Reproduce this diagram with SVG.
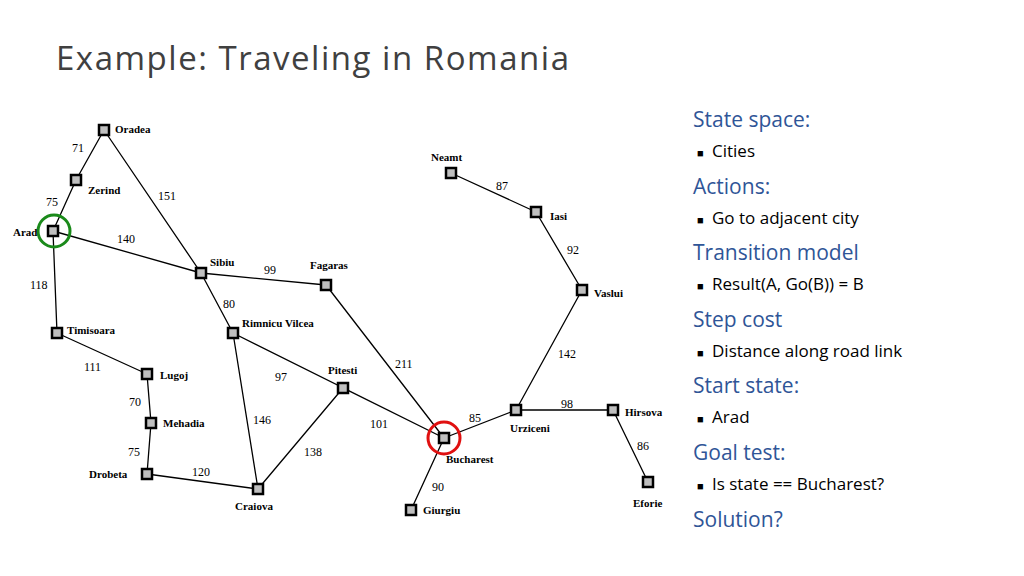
<svg xmlns="http://www.w3.org/2000/svg" width="1024" height="576" viewBox="0 0 1024 576">
<style>
.e{stroke:#000;stroke-width:1.3;fill:none}
.n rect{fill:#bfbfbf;stroke:#000;stroke-width:2.5}
.c{font-family:"Liberation Serif",serif;font-weight:bold;font-size:11px}
.d{font-family:"Liberation Serif",serif;font-size:12px}
.h{font-family:"Open Sans",sans-serif;font-size:21px;fill:#2F5597}
.b{font-family:"Open Sans",sans-serif;font-size:17px;fill:#000}
</style>
<rect width="1024" height="576" fill="#fff"/>
<text x="56" y="70" font-family="Open Sans, sans-serif" font-size="33" fill="#404040" textLength="513">Example: Traveling in Romania</text>
<g id="connectors">
<path class="e" d="M104,130L76,180M76,180L53,231M104,130L201,273M53,231L201,273M53,231L57,333M201,273L326,285M201,273L233,333M326,285L444,438M57,333L147,374M147,374L151,423M151,423L147,474M147,474L258,489M233,333L258,489M233,333L444,438M258,489L343,388M343,388L444,438M444,438L411,510M444,438L516,410M516,410L613,410M613,410L648,482M516,410L582,290M582,290L536,212M536,212L451,173"/>
<circle cx="54" cy="231" r="16" fill="none" stroke="#1a8a1a" stroke-width="3"/>
<circle cx="444" cy="438" r="16" fill="none" stroke="#e01010" stroke-width="3"/>
</g>
<g class="d">
<text x="72" y="152">71</text><text x="46" y="206">75</text><text x="158" y="200">151</text><text x="117" y="243">140</text>
<text x="30" y="289">118</text><text x="264" y="274">99</text><text x="223" y="308">80</text><text x="395" y="368">211</text>
<text x="84" y="371">111</text><text x="275" y="381">97</text><text x="129" y="406">70</text><text x="253" y="424">146</text>
<text x="370" y="428">101</text><text x="128" y="456">75</text><text x="304" y="456">138</text><text x="192" y="476">120</text>
<text x="432" y="491">90</text><text x="469" y="422">85</text><text x="561" y="408">98</text><text x="637" y="450">86</text>
<text x="567" y="254">92</text><text x="496" y="190">87</text><text x="558" y="358">142</text>
</g>
<g class="c">
<g id="Oradea" class="n"><rect x="99" y="125" width="10" height="10"/><text x="115" y="133">Oradea</text></g>
<g id="Zerind" class="n"><rect x="71" y="175" width="10" height="10"/><text x="88" y="194">Zerind</text></g>
<g id="Arad" class="n"><rect x="48" y="226" width="10" height="10"/><text x="13" y="236">Arad</text></g>
<g id="Sibiu" class="n"><rect x="196" y="268" width="10" height="10"/><text x="210" y="266">Sibiu</text></g>
<g id="Fagaras" class="n"><rect x="321" y="280" width="10" height="10"/><text x="310" y="269">Fagaras</text></g>
<g id="Timisoara" class="n"><rect x="52" y="328" width="10" height="10"/><text x="67" y="334">Timisoara</text></g>
<g id="RimnicuVilcea" class="n"><rect x="228" y="328" width="10" height="10"/><text x="242" y="327">Rimnicu Vilcea</text></g>
<g id="Lugoj" class="n"><rect x="142" y="369" width="10" height="10"/><text x="160" y="379">Lugoj</text></g>
<g id="Pitesti" class="n"><rect x="338" y="383" width="10" height="10"/><text x="328" y="374">Pitesti</text></g>
<g id="Mehadia" class="n"><rect x="146" y="418" width="10" height="10"/><text x="163" y="427">Mehadia</text></g>
<g id="Drobeta" class="n"><rect x="142" y="469" width="10" height="10"/><text x="89" y="478">Drobeta</text></g>
<g id="Craiova" class="n"><rect x="253" y="484" width="10" height="10"/><text x="235" y="510">Craiova</text></g>
<g id="Bucharest" class="n"><rect x="439" y="433" width="10" height="10"/><text x="446" y="463">Bucharest</text></g>
<g id="Giurgiu" class="n"><rect x="406" y="505" width="10" height="10"/><text x="423" y="514">Giurgiu</text></g>
<g id="Urziceni" class="n"><rect x="511" y="405" width="10" height="10"/><text x="510" y="432">Urziceni</text></g>
<g id="Hirsova" class="n"><rect x="608" y="405" width="10" height="10"/><text x="625" y="416">Hirsova</text></g>
<g id="Eforie" class="n"><rect x="643" y="477" width="10" height="10"/><text x="633" y="507">Eforie</text></g>
<g id="Vaslui" class="n"><rect x="577" y="285" width="10" height="10"/><text x="594" y="297">Vaslui</text></g>
<g id="Iasi" class="n"><rect x="531" y="207" width="10" height="10"/><text x="550" y="220">Iasi</text></g>
<g id="Neamt" class="n"><rect x="446" y="168" width="10" height="10"/><text x="431" y="161">Neamt</text></g>
</g>
<g id="panel">
<text class="h" x="693" y="127">State space:</text>
<text class="b" x="697" y="157"><tspan font-size="11">■</tspan><tspan x="712">Cities</tspan></text>
<text class="h" x="693" y="194">Actions:</text>
<text class="b" x="697" y="224"><tspan font-size="11">■</tspan><tspan x="712">Go to adjacent city</tspan></text>
<text class="h" x="693" y="260">Transition model</text>
<text class="b" x="697" y="290"><tspan font-size="11">■</tspan><tspan x="712">Result(A, Go(B)) = B</tspan></text>
<text class="h" x="693" y="327">Step cost</text>
<text class="b" x="697" y="357"><tspan font-size="11">■</tspan><tspan x="712">Distance along road link</tspan></text>
<text class="h" x="693" y="393">Start state:</text>
<text class="b" x="697" y="423"><tspan font-size="11">■</tspan><tspan x="712">Arad</tspan></text>
<text class="h" x="693" y="460">Goal test:</text>
<text class="b" x="697" y="490"><tspan font-size="11">■</tspan><tspan x="712">Is state == Bucharest?</tspan></text>
<text class="h" x="693" y="527">Solution?</text>
</g>
</svg>
